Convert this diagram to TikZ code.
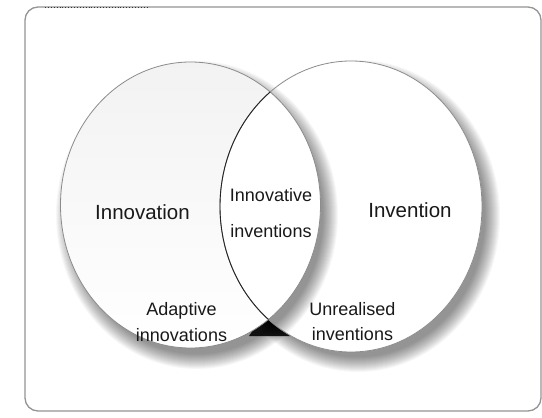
\documentclass[tikz,border=0pt]{standalone}
\usepackage{fontspec}
\setmainfont{Liberation Sans}
\begin{document}
\begin{tikzpicture}[x=1pt,y=-1pt,
  frame/.style={draw=black!42,line width=1.3pt,rounded corners=13pt},
  shadowlayer/.style={fill=black,opacity=0.032},
  big/.style={font=\fontsize{20.5}{22}\selectfont,text=black!90},
  small/.style={font=\fontsize{18}{20}\selectfont,text=black!90,align=center}]
\useasboundingbox (0,0) rectangle (542,418);
\fill[white] (0,0) rectangle (542,418);
% frame
\draw[frame] (25,7) rectangle (541,411);
\draw[black!80,line width=0.9pt,dotted] (45,7) -- (148,7);
% dark wedge between the circles
\fill[black!88] (270,306) -- (249,336) -- (290,336) -- cycle;
% right ellipse shadow and fill
\foreach \k in {0,...,15}{
  \path[shadowlayer] (358,216) ellipse [x radius=127+\k, y radius=141+\k];
}
\fill[white] (351,206.5) ellipse [x radius=131, y radius=145.5];
% left ellipse shadow and fill
\foreach \k in {0,...,15}{
  \path[shadowlayer] (197,215) ellipse [x radius=126+\k, y radius=139+\k];
}
\shade[top color=black!5,bottom color=white] (190.5,205) ellipse [x radius=130, y radius=143];
\fill[white] (351,206.5) ellipse [x radius=131, y radius=145.5];
\begin{scope}
  \clip (351,206.5) ellipse [x radius=131, y radius=145.5];
  \foreach \k in {0,...,15}{
    \path[shadowlayer] (197,215) ellipse [x radius=126+\k, y radius=139+\k];
  }
  \fill[white] (190.5,205) ellipse [x radius=130, y radius=143];
\end{scope}
% outlines
\draw[black!45,line width=0.8pt] (190.5,205) ellipse [x radius=130, y radius=143];
\draw[black!45,line width=0.8pt] (351,206.5) ellipse [x radius=131, y radius=145.5];
\begin{scope}
  \clip (190.5,205) ellipse [x radius=130, y radius=143];
  \draw[black!85,line width=0.9pt] (351,206.5) ellipse [x radius=131, y radius=145.5];
\end{scope}
% labels
\node[big] (inno) at (142.5,212) {Innovation};
\node[big] (inve) at (410,210) {Invention};
\node[small] (ii1) at (271,195) {Innovative};
\node[small] (ii2) at (271,231) {inventions};
\node[small] (ad1) at (181.5,311) {Adaptive};
\node[small] (ad2) at (181.5,335) {innovations};
\node[small] (un1) at (352.5,309) {Unrealised};
\node[small] (un2) at (352.5,334.5) {inventions};
\end{tikzpicture}
\end{document}
